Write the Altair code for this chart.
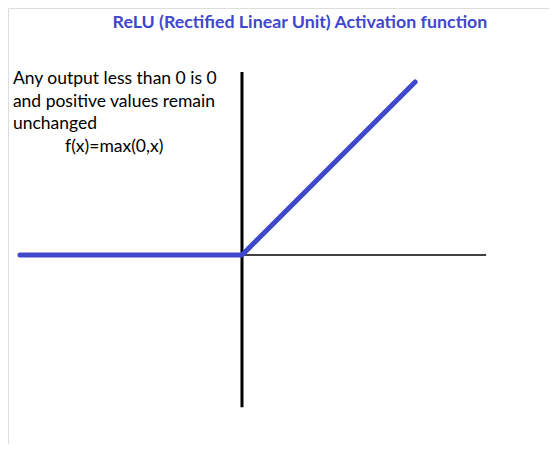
import altair as alt
import pandas as pd

# ReLU curve points
relu_x = [-10, 0, 7.8]
relu_y = [0, 0, 7.8]
# Hand-drawn axes extents
haxis_x = [0, 11]
vaxis_y = [-6.85, 8.25]
# Annotation text
note_lines = ["Any output less than 0 is 0", "and positive values remain", "unchanged"]
note_y = [7.70, 6.67, 5.68]
formula = "f(x)=max(0,x)"
title_text = "ReLU (Rectified Linear Unit) Activation function"

BLUE = "#3F48CC"
XDOM = [-10.54, 13.83]
YDOM = [-8.51, 11.13]

xs = alt.Scale(domain=XDOM, nice=False, zero=False)
ys = alt.Scale(domain=YDOM, nice=False, zero=False)

relu_df = pd.DataFrame({"x": relu_x, "y": relu_y, "o": list(range(len(relu_x)))})

vaxis = alt.Chart(pd.DataFrame({"x": [0], "y": [vaxis_y[0]], "y2": [vaxis_y[1]]})).mark_rule(
    color="black", strokeWidth=3
).encode(x=alt.X("x:Q", scale=xs, axis=None), y=alt.Y("y:Q", scale=ys, axis=None), y2="y2:Q")

haxis = alt.Chart(pd.DataFrame({"x": [haxis_x[0]], "x2": [haxis_x[1]], "y": [0]})).mark_rule(
    color="black", strokeWidth=1.5
).encode(x=alt.X("x:Q", scale=xs, axis=None), x2="x2:Q", y=alt.Y("y:Q", scale=ys, axis=None))

relu = alt.Chart(relu_df).mark_line(
    color=BLUE, strokeWidth=5, strokeCap="round", strokeJoin="round"
).encode(
    x=alt.X("x:Q", scale=xs, axis=None),
    y=alt.Y("y:Q", scale=ys, axis=None),
    order="o:Q",
)

notes = alt.Chart(pd.DataFrame({"t": note_lines, "x": [-10.32] * 3, "y": note_y})).mark_text(
    align="left", baseline="alphabetic", font="Lato", fontSize=17.5, color="black"
).encode(x=alt.X("x:Q", scale=xs, axis=None), y=alt.Y("y:Q", scale=ys, axis=None), text="t:N")

form = alt.Chart(pd.DataFrame({"t": [formula], "x": [-7.97], "y": [4.64]})).mark_text(
    align="left", baseline="alphabetic", font="Lato", fontSize=17.5, color="black"
).encode(x=alt.X("x:Q", scale=xs, axis=None), y=alt.Y("y:Q", scale=ys, axis=None), text="t:N")

title = alt.Chart(pd.DataFrame({"t": [title_text], "x": [2.61], "y": [10.23]})).mark_text(
    align="center", baseline="alphabetic", font="Lato", fontSize=17.8, fontWeight="bold", color=BLUE
).encode(x=alt.X("x:Q", scale=xs, axis=None), y=alt.Y("y:Q", scale=ys, axis=None), text="t:N")

chart = alt.layer(vaxis, haxis, relu, notes, form, title).properties(
    width=541, height=436, autosize=alt.AutoSizeParams(type="none"), padding=0
).configure_view(stroke=None).configure(background="white")

chart.save("out.html", embed_options={"renderer": "svg", "actions": False})
